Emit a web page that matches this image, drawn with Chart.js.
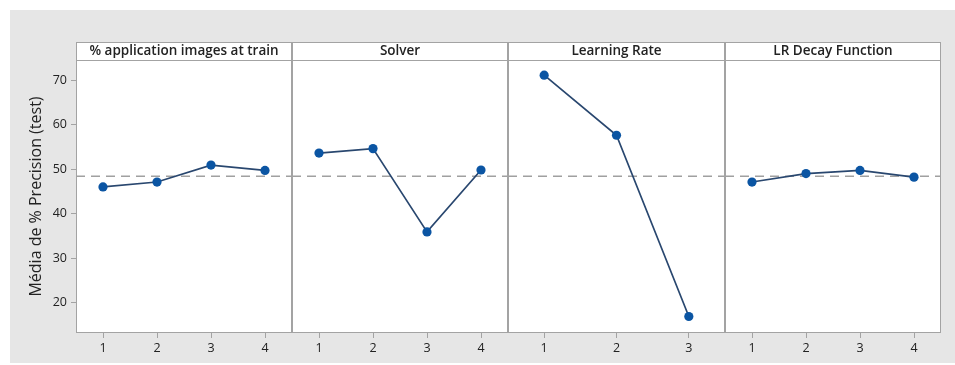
<!DOCTYPE html>
<html>
<head>
<meta charset="utf-8">
<script src="https://cdn.jsdelivr.net/npm/chart.js@4/dist/chart.umd.min.js"></script>
<style>
  html, body { margin: 0; padding: 0; background: #fff; width: 955px; height: 365px; overflow: hidden; }
  #frame { position: absolute; left: 10px; top: 10px; width: 945px; height: 353px; background: #e6e6e6; }
  #frame canvas { position: absolute; top: 0; }
</style>
</head>
<body>
<div id="frame">
  <canvas id="c0" width="282" height="353" style="left:0px"></canvas>
  <canvas id="c1" width="216" height="353" style="left:282px"></canvas>
  <canvas id="c2" width="217" height="353" style="left:498px"></canvas>
  <canvas id="c3" width="216" height="353" style="left:715px"></canvas>
</div>
<script>
// Main effects: mean % precision (test) per factor level
const factorNames = ['% application images at train', 'Solver', 'Learning Rate', 'LR Decay Function'];
const levelsImages = [1, 2, 3, 4];
const levelsSolver = [1, 2, 3, 4];
const levelsLR = [1, 2, 3];
const levelsDecay = [1, 2, 3, 4];
const meanImages = [46.0, 47.1, 50.9, 49.7];
const meanSolver = [53.6, 54.6, 35.9, 49.8];
const meanLR = [71.1, 57.6, 16.9];
const meanDecay = [47.1, 49.0, 49.7, 48.2];
const grandMean = 48.4;
const yTicks = [20, 30, 40, 50, 60, 70];
const yMin = 13.2, yMax = 74.5;
const yTitle = 'Média de % Precision (test)';

const FONT = "'Open Sans', 'Noto Sans', sans-serif";
const FRAME = '#a3a3a3';
const INK = '#222';

const panels = [
  { name: factorNames[0], levels: levelsImages, values: meanImages },
  { name: factorNames[1], levels: levelsSolver, values: meanSolver },
  { name: factorNames[2], levels: levelsLR, values: meanLR },
  { name: factorNames[3], levels: levelsDecay, values: meanDecay }
];

// White plot area, frame and factor header box above each panel
const panelDecor = {
  id: 'panelDecor',
  beforeDraw(chart, args, opts) {
    const { ctx, chartArea: a } = chart;
    ctx.save();
    ctx.fillStyle = '#fff';
    ctx.fillRect(a.left, opts.headerTop, a.right - a.left, a.bottom - opts.headerTop);
    ctx.restore();
  },
  afterDatasetsDraw(chart, args, opts) {
    const { ctx, chartArea: a } = chart;
    const l = Math.round(a.left) + 0.5, r = Math.round(a.right) - 0.5;
    const t = Math.round(a.top) + 0.5, b = Math.round(a.bottom) - 0.5;
    const h = opts.headerTop + 0.5;
    ctx.save();
    ctx.strokeStyle = FRAME;
    ctx.lineWidth = 1;
    ctx.strokeRect(l, h, r - l, b - h);
    ctx.beginPath();
    ctx.moveTo(l, t); ctx.lineTo(r, t);
    ctx.stroke();
    ctx.fillStyle = INK;
    ctx.font = '600 13.5px ' + FONT;
    ctx.textAlign = 'center';
    ctx.textBaseline = 'middle';
    ctx.fillText(opts.title, (a.left + a.right) / 2, (opts.headerTop + a.top) / 2 + 0.5);
    ctx.restore();
  }
};

function makePanel(canvasId, panel, withYAxis) {
  const xMin = 0.5, xMax = panel.levels.length + 0.5;
  const points = panel.levels.map((lv, i) => ({ x: lv, y: panel.values[i] }));
  return new Chart(document.getElementById(canvasId), {
    type: 'line',
    data: {
      datasets: [
        {
          data: points,
          borderColor: '#29476f',
          borderWidth: 1.7,
          pointRadius: 4.6,
          pointBackgroundColor: '#0b55a3',
          pointBorderWidth: 0,
          tension: 0,
          clip: false
        },
        {
          data: [{ x: xMin, y: grandMean }, { x: xMax, y: grandMean }],
          borderColor: '#a0a0a0',
          borderWidth: 1.7,
          borderDash: [9, 6],
          pointRadius: 0
        }
      ]
    },
    options: {
      responsive: false,
      animation: false,
      devicePixelRatio: 1,
      layout: { autoPadding: false, padding: { top: 50, left: 0, right: 0, bottom: 0 } },
      plugins: {
        legend: { display: false },
        tooltip: { enabled: false },
        panelDecor: { title: panel.name, headerTop: 32 }
      },
      scales: {
        x: {
          type: 'linear',
          min: xMin,
          max: xMax,
          afterBuildTicks: s => { s.ticks = panel.levels.map(v => ({ value: v })); },
          afterFit: s => { s.height = 30; s.paddingLeft = 0; s.paddingRight = 0; },
          border: { display: false },
          grid: { drawOnChartArea: false, drawTicks: true, tickLength: 5, color: FRAME },
          ticks: { padding: 3, color: INK, font: { family: FONT, size: 12.5 }, maxRotation: 0 }
        },
        y: {
          display: withYAxis,
          min: yMin,
          max: yMax,
          afterBuildTicks: s => { s.ticks = yTicks.map(v => ({ value: v })); },
          afterFit: s => { s.width = withYAxis ? 66 : 0; s.paddingTop = 0; s.paddingBottom = 0; },
          border: { display: false },
          grid: { drawOnChartArea: false, drawTicks: true, tickLength: 5, color: FRAME },
          ticks: { padding: 4, color: INK, font: { family: FONT, size: 12.5 } },
          title: {
            display: withYAxis,
            text: yTitle,
            color: INK,
            font: { family: FONT, size: 16 },
            padding: { top: 17, bottom: 0 }
          }
        }
      }
    },
    plugins: [panelDecor]
  });
}

makePanel('c0', panels[0], true);
makePanel('c1', panels[1], false);
makePanel('c2', panels[2], false);
makePanel('c3', panels[3], false);
</script>
</body>
</html>
